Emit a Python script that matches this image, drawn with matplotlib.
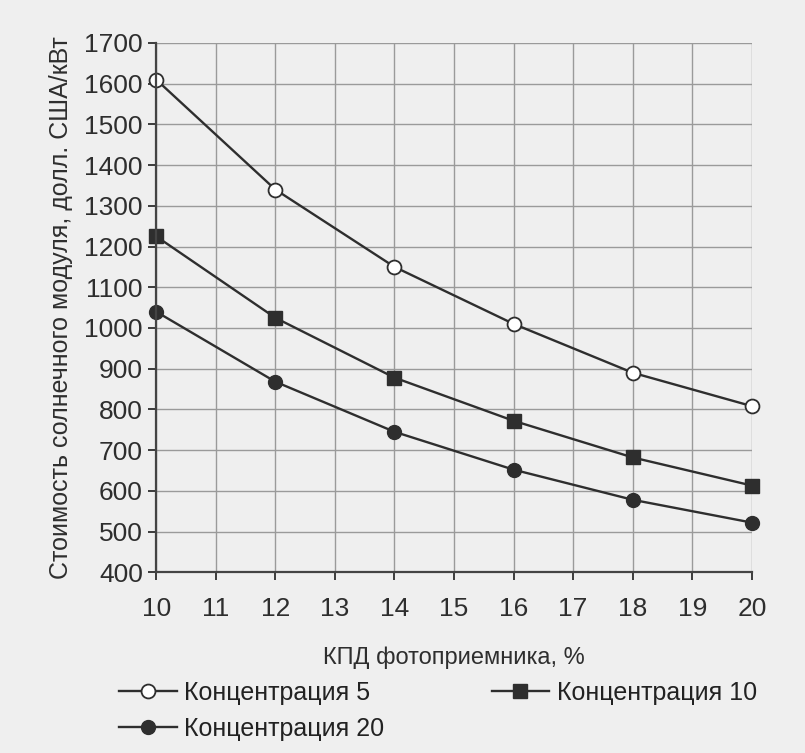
import matplotlib.pyplot as plt

plt.rcParams['font.family'] = ['Liberation Sans', 'DejaVu Sans']

# data
kpd = [10, 12, 14, 16, 18, 20]
conc5 = [1610, 1340, 1150, 1010, 890, 808]
conc10 = [1225, 1025, 878, 772, 682, 613]
conc20 = [1040, 868, 745, 652, 578, 522]
x_ticks = list(range(10, 21))
y_ticks = list(range(400, 1701, 100))

bg = '#efefef'
ink = '#2e2e2e'
fig = plt.figure(figsize=(8.05, 7.53), dpi=100, facecolor=bg)
ax = fig.add_axes([0.194, 0.240, 0.740, 0.703], facecolor=bg)

l5, = ax.plot(kpd, conc5, '-o', color=ink, lw=1.7, ms=10, clip_on=False,
              mfc='white', mec=ink, mew=1.3, label='Концентрация 5')
l10, = ax.plot(kpd, conc10, '-s', color=ink, lw=1.7, ms=10, clip_on=False,
               mfc=ink, mec=ink, label='Концентрация 10')
l20, = ax.plot(kpd, conc20, '-o', color=ink, lw=1.7, ms=10, clip_on=False,
               mfc=ink, mec=ink, label='Концентрация 20')

ax.set_xlim(10, 20)
ax.set_ylim(400, 1700)
ax.set_xticks(x_ticks)
ax.set_yticks(y_ticks)
ax.grid(True, color='#9a9a9a', lw=1.0)
ax.set_axisbelow(True)
for s in ['top', 'right']:
    ax.spines[s].set_visible(False)
for s in ['left', 'bottom']:
    ax.spines[s].set_color('#444444')
    ax.spines[s].set_linewidth(1.6)
ax.tick_params(axis='both', labelsize=19, colors=ink, length=6, width=1.3)
ax.tick_params(axis='x', pad=12)

ax.set_xlabel('КПД фотоприемника, %', fontsize=17, color=ink, labelpad=18)
ax.set_ylabel('Стоимость солнечного модуля, долл. США/кВт', fontsize=18,
              color=ink, labelpad=8)

fig.legend([l5, l20, l10], ['Концентрация 5', 'Концентрация 20', 'Концентрация 10'],
           ncol=2, loc='upper left', bbox_to_anchor=(0.12, 0.126),
           frameon=False, fontsize=18, handlelength=2.3, columnspacing=4.3,
           labelspacing=0.5, handletextpad=0.3, labelcolor='#222222')

plt.savefig('out.png', dpi=100, facecolor=bg)
